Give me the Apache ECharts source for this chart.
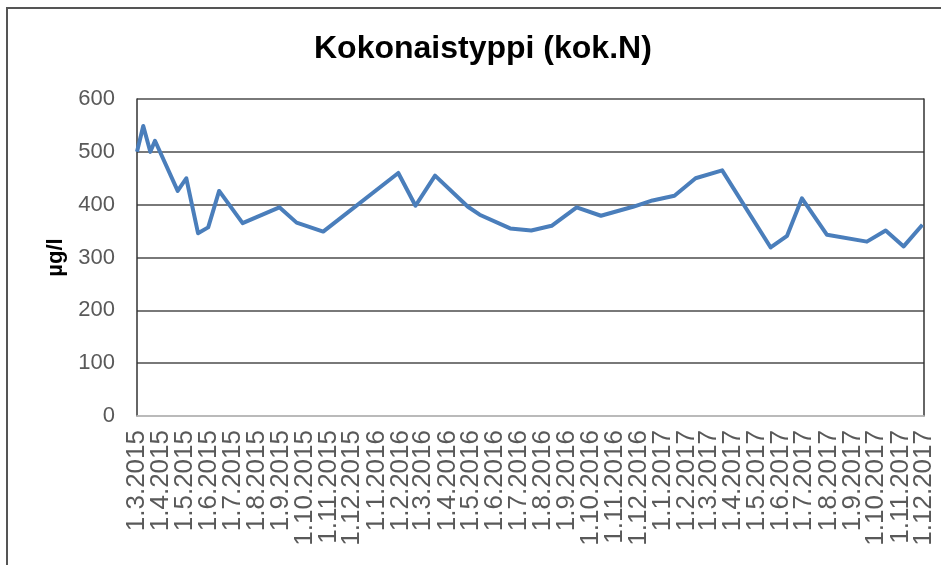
<!DOCTYPE html>
<html>
<head>
<meta charset="utf-8">
<title>Kokonaistyppi (kok.N)</title>
<script src="https://cdn.jsdelivr.net/npm/echarts@6/dist/echarts.min.js"></script>
<style>
  html, body { margin: 0; padding: 0; background: #fff; }
  #main { width: 941px; height: 565px; }
</style>
</head>
<body>
<div id="main"></div>
<script>
// näytteenottopäivät (luettu kuvasta)
var sampleDates = [
  '2015-03-01', '2015-03-09', '2015-03-18', '2015-03-24', '2015-04-22', '2015-05-03',
  '2015-05-18', '2015-05-31', '2015-06-14', '2015-07-14', '2015-08-30', '2015-09-21',
  '2015-10-25', '2016-01-29', '2016-02-20', '2016-03-16', '2016-04-27', '2016-05-12',
  '2016-06-20', '2016-07-17', '2016-08-12', '2016-09-13', '2016-10-14', '2016-11-24',
  '2016-12-19', '2017-01-16', '2017-02-12', '2017-03-18', '2017-05-19', '2017-06-09',
  '2017-06-28', '2017-07-30', '2017-09-19', '2017-10-13', '2017-11-05', '2017-11-29'
];
// kok.N µg/l
var totalN = [
  500, 549, 500, 521, 426, 450,
  346, 357, 426, 365, 395, 366,
  349, 460, 398, 455, 396, 381,
  355, 351, 360, 395, 379, 396,
  408, 417, 450, 465, 319, 341,
  412, 343, 330, 351, 321, 362
];
// x-akselin merkinnät
var xTickLabels = [
  '1.3.2015', '1.4.2015', '1.5.2015', '1.6.2015', '1.7.2015', '1.8.2015', '1.9.2015',
  '1.10.2015', '1.11.2015', '1.12.2015', '1.1.2016', '1.2.2016', '1.3.2016', '1.4.2016',
  '1.5.2016', '1.6.2016', '1.7.2016', '1.8.2016', '1.9.2016', '1.10.2016', '1.11.2016',
  '1.12.2016', '1.1.2017', '1.2.2017', '1.3.2017', '1.4.2017', '1.5.2017', '1.6.2017',
  '1.7.2017', '1.8.2017', '1.9.2017', '1.10.2017', '1.11.2017', '1.12.2017'
];
var yTicks = [0, 100, 200, 300, 400, 500, 600];

// päivät 1.3.2015 alkaen
var DAY = 86400000;
var t0 = Date.UTC(2015, 2, 1);
function isoDay(s) {
  var p = s.split('-');
  return Math.round((Date.UTC(+p[0], +p[1] - 1, +p[2]) - t0) / DAY);
}
function fiDay(s) {
  var p = s.split('.');
  return Math.round((Date.UTC(+p[2], +p[1] - 1, +p[0]) - t0) / DAY);
}

var tickDays = xTickLabels.map(fiDay);
var labelByDay = {};
tickDays.forEach(function (d, i) { labelByDay[d] = xTickLabels[i]; });
var seriesData = sampleDates.map(function (d, i) { return [isoDay(d), totalN[i]]; });

// joka toinen merkintä omalle akselilleen, ettei ECharts piilota päällekkäisiä
var evenDays = tickDays.filter(function (d, i) { return i % 2 === 0; });
var oddDays = tickDays.filter(function (d, i) { return i % 2 === 1; });

var font = 'Liberation Sans, Arial, sans-serif';

function dateAxis(values, showLine) {
  return {
    type: 'value',
    position: 'bottom',
    offset: 0,
    min: tickDays[0],
    max: tickDays[tickDays.length - 1],
    axisLine: { show: showLine, onZero: false, lineStyle: { color: '#d0d0d0', width: 1.5 } },
    axisTick: { show: false },
    splitLine: { show: false },
    axisLabel: {
      customValues: values,
      showMinLabel: true,
      showMaxLabel: true,
      rotate: 90,
      margin: 14,
      color: '#595959',
      fontFamily: font,
      fontSize: 26,
      hideOverlap: false,
      formatter: function (v) { return labelByDay[v] || ''; }
    }
  };
}

var myChart = echarts.init(document.getElementById('main'));
myChart.setOption({
  animation: false,
  title: {
    text: 'Kokonaistyppi (kok.N)',
    left: 309,
    top: 28,
    textStyle: { fontFamily: font, fontSize: 32, fontWeight: 'bold', color: '#000' }
  },
  graphic: [{
    type: 'rect',
    shape: { x: 7, y: 8, width: 1000, height: 1000 },
    style: { fill: 'none', stroke: '#555', lineWidth: 2 },
    silent: true
  }],
  grid: { left: 137, right: 17, top: 99, bottom: 149 },
  xAxis: [dateAxis(evenDays, true), dateAxis(oddDays, false)],
  yAxis: [{
    type: 'value',
    min: yTicks[0],
    max: yTicks[yTicks.length - 1],
    interval: 100,
    name: 'µg/l',
    nameLocation: 'middle',
    nameGap: 65,
    nameTextStyle: { fontFamily: font, fontSize: 22, fontWeight: 'bold', color: '#000' },
    axisLine: { show: true, onZero: false, lineStyle: { color: '#333', width: 1.5 } },
    axisTick: { show: false },
    axisLabel: { margin: 22, color: '#595959', fontFamily: font, fontSize: 22 },
    splitLine: { lineStyle: { color: '#4d4d4d', width: 1.5 } }
  }, {
    type: 'value',
    position: 'right',
    min: yTicks[0],
    max: yTicks[yTicks.length - 1],
    interval: 100,
    axisLine: { show: true, onZero: false, lineStyle: { color: '#333', width: 1.5 } },
    axisTick: { show: false },
    axisLabel: { show: false },
    splitLine: { show: false }
  }],
  series: [{
    name: 'kok.N',
    type: 'line',
    xAxisIndex: 0,
    yAxisIndex: 0,
    data: seriesData,
    showSymbol: false,
    symbol: 'none',
    lineStyle: { color: '#4A7EBB', width: 4, join: 'round' }
  }]
});
</script>
</body>
</html>
